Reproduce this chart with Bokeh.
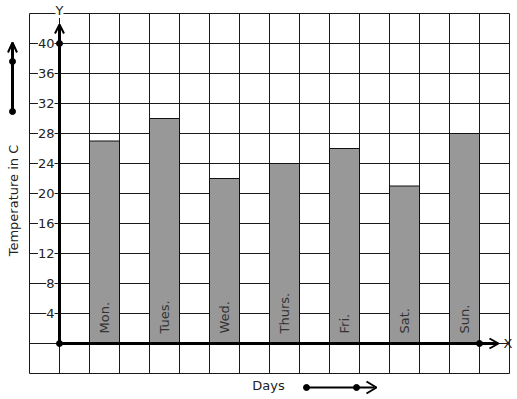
import math
from bokeh.plotting import figure
from bokeh.models import Range1d
from bokeh.core.properties import value
from bokeh.embed import file_html
from bokeh.resources import INLINE

# ---- data ----
days = ["Mon.", "Tues.", "Wed.", "Thurs.", "Fri.", "Sat.", "Sun."]
temps = [27, 30, 22, 24, 26, 21, 28]
y_ticks = [4, 8, 12, 16, 20, 24, 28, 32, 36, 40]
y_title = "Temperature in C"
x_title = "Days"

# ---- layout helpers (pixel -> data) ----
W, H = 517, 399
X0PX, Y0PX = 59, 343        # origin in pixels
XPX, YPX = 30.0, 7.5        # pixels per unit


def dx(px):
    return (px - X0PX) / XPX


def dy(py):
    return (Y0PX - py) / YPX


p = figure(width=W, height=H, min_border=0, toolbar_location=None,
           output_backend="svg", x_axis_type=None, y_axis_type=None,
           x_range=Range1d(dx(0), dx(W)), y_range=Range1d(dy(H), dy(0)))
p.outline_line_color = None
p.background_fill_color = "white"
p.border_fill_color = "white"

FONT = value("DejaVu Sans")
TXT = "#222222"

# grid
gx = list(range(-1, 16))
gy = list(range(-4, 45, 4))
p.segment(x0=gx, y0=[-4] * len(gx), x1=gx, y1=[44] * len(gx),
          line_color="#1a1a1a", line_width=1)
p.segment(x0=[-1] * len(gy), y0=gy, x1=[15] * len(gy), y1=gy,
          line_color="#1a1a1a", line_width=1)

# bars
xs = [1.5 + 2 * i for i in range(len(days))]
p.vbar(x=xs, width=1, top=temps, bottom=0, fill_color="#989898",
       line_color="#111111", line_width=1)
p.text(x=xs, y=[dy(333)] * len(days), text=days, angle=math.pi / 2,
       text_align="left", text_baseline="middle", text_font=FONT,
       text_font_size="13px", text_color="#333333")

# y tick labels with white background
p.text(x=[dx(54)] * len(y_ticks), y=y_ticks, text=[str(t) for t in y_ticks],
       text_align="right", text_baseline="middle", text_font=FONT,
       text_font_size="13px", text_color=TXT,
       background_fill_color="white")

# axes (thick) with arrows
p.line(x=[0, 0], y=[0, dy(25)], line_color="black", line_width=3)
p.line(x=[dx(54.5), 0, dx(63.5)], y=[dy(33), dy(24), dy(33)],
       line_color="black", line_width=2)
p.line(x=[0, dx(497)], y=[0, 0], line_color="black", line_width=3)
p.line(x=[dx(489), dx(498), dx(489)], y=[dy(338), 0, dy(348)],
       line_color="black", line_width=2)
p.scatter(x=[0, 0, 14], y=[0, 40, 0], size=6, color="black")

# axis letters
p.text(x=[0], y=[dy(10)], text=["Y"], text_align="center",
       text_baseline="middle", text_font=FONT, text_font_size="13px",
       text_color=TXT, background_fill_color="white")
p.text(x=[dx(503)], y=[0], text=["X"], text_align="left",
       text_baseline="middle", text_font=FONT, text_font_size="13px",
       text_color=TXT)

# y title with decorative arrow
p.text(x=[dx(13)], y=[dy(200)], text=[y_title], angle=math.pi / 2,
       text_align="center", text_baseline="middle", text_font=FONT,
       text_font_size="13px", text_color=TXT)
p.line(x=[dx(12), dx(12)], y=[dy(111), dy(44)], line_color="black", line_width=3)
p.line(x=[dx(7.5), dx(12), dx(16.5)], y=[dy(52), dy(42), dy(52)],
       line_color="black", line_width=2)
p.scatter(x=[dx(12), dx(12)], y=[dy(111), dy(61)], size=6, color="black")

# x title with decorative arrow
p.text(x=[dx(268)], y=[dy(385)], text=[x_title], text_align="center",
       text_baseline="middle", text_font=FONT, text_font_size="13px",
       text_color=TXT)
p.line(x=[dx(306), dx(374)], y=[dy(387), dy(387)], line_color="black", line_width=2)
p.line(x=[dx(366), dx(376), dx(366)], y=[dy(381), dy(387), dy(393)],
       line_color="black", line_width=2)
p.scatter(x=[dx(306), dx(356)], y=[dy(387), dy(387)], size=6, color="black")

open("out.html", "w").write(file_html(p, INLINE))
